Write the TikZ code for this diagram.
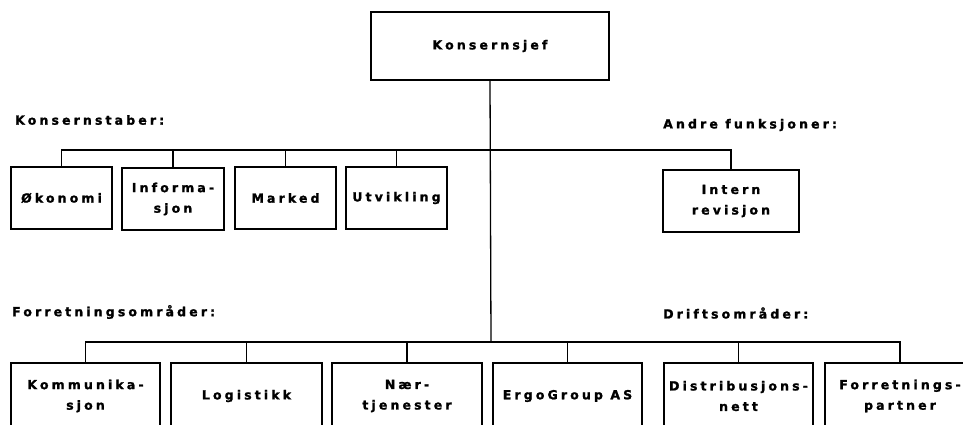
\documentclass[tikz,border=0pt]{standalone}
\usepackage{fontspec}
\setmainfont{DejaVu Sans}[LetterSpace=25, BoldFeatures={FakeBold=1.5}]
\usepackage{tikz}
\usetikzlibrary{positioning}

\begin{document}
\begin{tikzpicture}[
    x=1pt, y=-1pt,
    every node/.style={font=\bfseries\fontsize{12.5}{20.5}\selectfont},
    topbox/.style={rectangle, draw, line width=1.6pt,
                   minimum width=238pt, minimum height=68pt},
    stabbox/.style={rectangle, draw, line width=1.6pt, align=center,
                    minimum height=62pt, inner sep=1pt},
    omrbox/.style={rectangle, draw, line width=1.6pt, align=center,
                   minimum width=150pt, minimum height=66pt, inner sep=1pt},
    heading/.style={anchor=west, inner sep=0pt},
    line/.style={line width=1.3pt}
]
\useasboundingbox (0,0) rectangle (963,425);
\clip (0,0) rectangle (963,425);

% Top
\node[topbox] (sjef) at (490,46) {Konsernsjef};

% Headings
\node[heading] (hstab) at (15,120) {Konsernstaber:};
\node[heading] (handre) at (663,125) {Andre funksjoner:};
\node[heading] (hforr) at (12,312) {Forretningsområder:};
\node[heading] (hdrift) at (663,313) {Driftsområder:};

% Konsernstaber
\node[stabbox, minimum width=101pt] (oko) at (61.5,198) {Økonomi};
\node[stabbox, minimum width=102pt] (info) at (173,199) {Informa-\\sjon};
\node[stabbox, minimum width=101pt] (marked) at (285.5,198) {Marked};
\node[stabbox, minimum width=101pt] (utv) at (396.5,198) {Utvikling};
\node[stabbox, minimum width=136pt] (intern) at (731,201) {Intern\\revisjon};

% Forretnings- og driftsomraader
\node[omrbox, minimum width=149pt] (komm) at (85.5,396) {Kommunika-\\sjon};
\node[omrbox, minimum width=151pt] (logist) at (246.5,396) {Logistikk};
\node[omrbox] (naer) at (407,396) {Nær-\\tjenester};
\node[omrbox, minimum width=149pt] (ergo) at (567.5,396) {ErgoGroup AS};
\node[omrbox, minimum width=149pt] (distr) at (738.5,396) {Distribusjons-\\nett};
\node[omrbox] (partner) at (900,396) {Forretnings-\\partner};

% Lines
\coordinate (stab) at (491,150);
\coordinate (forr) at (491,342);
\draw[line] (sjef.south) -- (forr);
\draw[line] (oko.north) |- (stab) -| (intern.north);
\foreach \n in {info, marked, utv}
    \draw[line] (\n.north) -- (\n.north |- stab);
\draw[line] (komm.north) |- (forr) -| (partner.north);
\foreach \n in {logist, naer, ergo, distr}
    \draw[line] (\n.north) -- (\n.north |- forr);

\end{tikzpicture}
\end{document}
